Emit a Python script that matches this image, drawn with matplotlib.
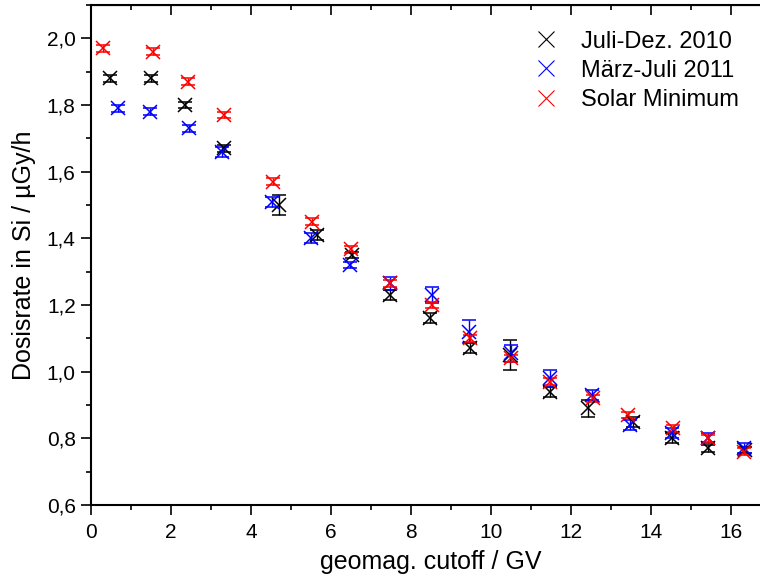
import numpy as np
import matplotlib.pyplot as plt
from matplotlib.lines import Line2D
from matplotlib.ticker import MultipleLocator, FuncFormatter

plt.rcParams['font.family'] = ['Liberation Sans', 'DejaVu Sans']

# Juli-Dez. 2010
x_2010 = [0.47, 1.50, 2.35, 3.33, 4.70, 5.65, 6.52, 7.47, 8.48, 9.47, 10.48, 11.48, 12.43, 13.55, 14.53, 15.43, 16.35]
y_2010 = [1.88, 1.88, 1.80, 1.67, 1.50, 1.41, 1.35, 1.23, 1.16, 1.07, 1.05, 0.94, 0.89, 0.85, 0.80, 0.77, 0.765]
e_2010 = [0.01, 0.01, 0.01, 0.01, 0.03, 0.015, 0.01, 0.015, 0.015, 0.015, 0.045, 0.015, 0.025, 0.015, 0.015, 0.01, 0.01]

# März-Juli 2011
x_2011 = [0.67, 1.48, 2.45, 3.28, 4.53, 5.50, 6.48, 7.47, 8.52, 9.45, 10.50, 11.47, 12.53, 13.48, 14.53, 15.43, 16.33]
y_2011 = [1.79, 1.78, 1.73, 1.66, 1.51, 1.40, 1.32, 1.265, 1.23, 1.12, 1.055, 0.98, 0.93, 0.84, 0.815, 0.80, 0.77]
e_2011 = [0.01, 0.01, 0.01, 0.015, 0.015, 0.015, 0.01, 0.02, 0.025, 0.035, 0.025, 0.025, 0.015, 0.015, 0.015, 0.015, 0.015]

# Solar Minimum
x_min = [0.30, 1.55, 2.43, 3.33, 4.55, 5.53, 6.50, 7.48, 8.52, 9.47, 10.50, 11.48, 12.55, 13.43, 14.55, 15.42, 16.32]
y_min = [1.97, 1.96, 1.87, 1.77, 1.57, 1.45, 1.367, 1.265, 1.20, 1.10, 1.04, 0.97, 0.92, 0.87, 0.83, 0.80, 0.76]
e_min = [0.01] * len(x_min)

series = [
    (x_2010, y_2010, e_2010, "black", "Juli-Dez. 2010"),
    (x_2011, y_2011, e_2011, "#0000ff", "März-Juli 2011"),
    (x_min, y_min, e_min, "#ff0000", "Solar Minimum"),
]

fig = plt.figure(figsize=(7.6, 5.85), dpi=100)
ax = fig.add_axes([91 / 760, 80 / 585, 680 / 760, 500 / 585])

handles = []
for xs, ys, es, col, lab in series:
    ax.errorbar(xs, ys, yerr=es, fmt="x", color=col, ms=10, mew=1.1,
                elinewidth=1.0, capsize=5, capthick=1.0)
    handles.append(Line2D([], [], ls="none", marker="x", color=col, ms=12, mew=0.8, label=lab))

ax.set_xlim(0, 17)
ax.set_ylim(0.6, 2.1)
ax.xaxis.set_major_locator(MultipleLocator(2))
ax.xaxis.set_minor_locator(MultipleLocator(1))
ax.yaxis.set_major_locator(MultipleLocator(0.2))
ax.yaxis.set_minor_locator(MultipleLocator(0.1))
ax.yaxis.set_major_formatter(FuncFormatter(lambda v, p: f"{v:.1f}".replace(".", ",")))
ax.xaxis.set_major_formatter(FuncFormatter(lambda v, p: f"{v:.0f}"))

for s in ax.spines.values():
    s.set_linewidth(1.5)
ax.tick_params(which="major", direction="out", length=7, width=1.2, labelsize=15, pad=4)
ax.tick_params(axis="x", which="major", pad=6)
ax.tick_params(which="minor", direction="out", length=3.5, width=1.2)

top = ax.secondary_xaxis("top")
top.xaxis.set_major_locator(MultipleLocator(2))
top.xaxis.set_minor_locator(MultipleLocator(1))
top.tick_params(which="major", direction="in", length=7, width=1.2, labeltop=False)
top.tick_params(which="minor", direction="in", length=3.5, width=1.2)
right = ax.secondary_yaxis("right")
right.yaxis.set_major_locator(MultipleLocator(0.2))
right.yaxis.set_minor_locator(MultipleLocator(0.1))
right.tick_params(which="major", direction="in", length=7, width=1.2, labelright=False)
right.tick_params(which="minor", direction="in", length=3.5, width=1.2)

ax.set_xlabel("geomag. cutoff / GV", fontsize=18, labelpad=6)
ax.set_ylabel("Dosisrate in Si / µGy/h", fontsize=18, labelpad=8)

ax.legend(handles=handles, loc="upper right", bbox_to_anchor=(0.974, 0.977), frameon=False,
          fontsize=17, handletextpad=0.7, borderaxespad=0.2, labelspacing=0.3, handlelength=1.6)

fig.savefig("out.png", dpi=100)
